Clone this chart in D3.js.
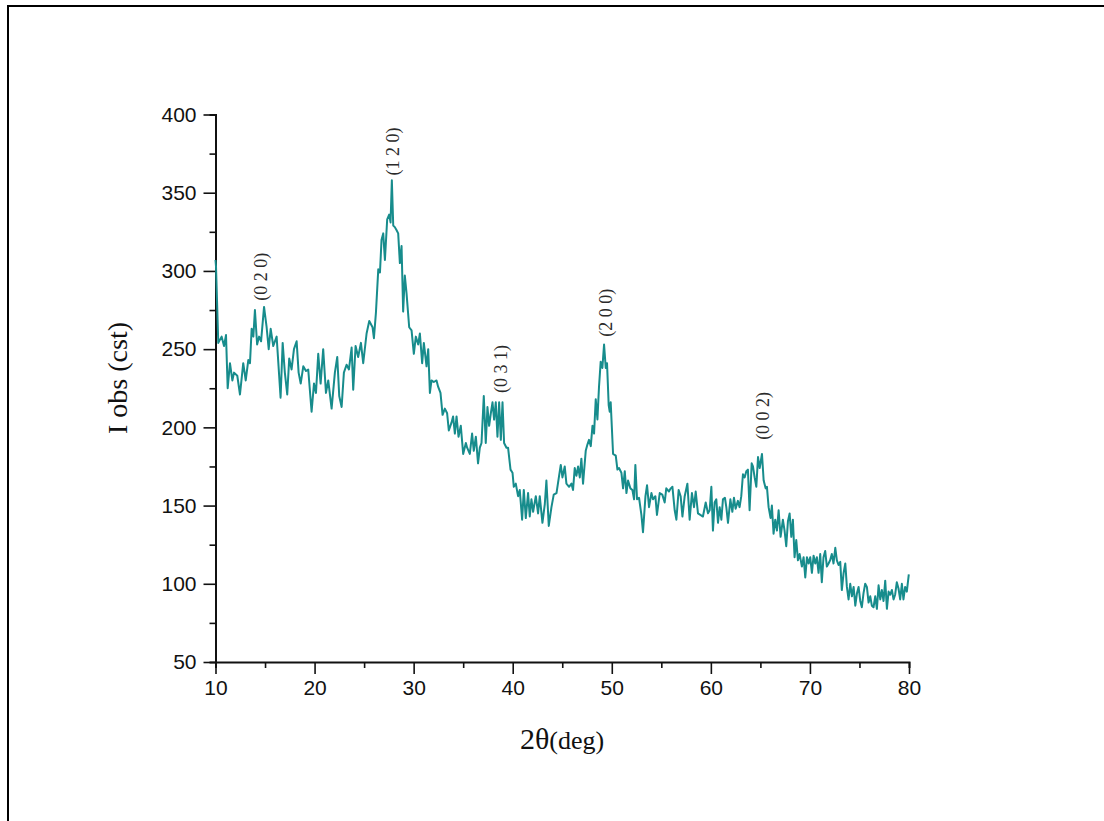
<!DOCTYPE html>
<html>
<head>
<meta charset="utf-8">
<script src="https://cdn.jsdelivr.net/npm/d3@7"></script>
<style>
  html, body { margin: 0; padding: 0; background: #fff; }
  svg { display: block; }
</style>
</head>
<body>
<svg id="chart" width="1104" height="821"></svg>
<script>
// Diffraction pattern: 2θ positions (deg) and observed intensity (counts)
const twoTheta = [
  10.00, 10.05, 10.28, 10.62, 10.86, 11.06, 11.23, 11.46, 11.70, 11.87, 12.20, 12.47, 12.80, 13.05, 13.31, 13.48,
  13.65, 13.82, 13.98, 14.20, 14.40, 14.60, 14.90, 15.16, 15.37, 15.57, 15.83, 16.17, 16.57, 16.78, 17.00, 17.24,
  17.44, 17.68, 17.92, 18.19, 18.39, 18.60, 18.86, 19.13, 19.36, 19.70, 19.94, 20.14, 20.37, 20.61, 20.87, 21.15,
  21.38, 21.72, 22.05, 22.29, 22.49, 22.73, 22.96, 23.23, 23.47, 23.74, 23.90, 24.14, 24.40, 24.68, 24.91, 25.25,
  25.52, 25.85, 25.99, 26.19, 26.43, 26.60, 26.76, 26.93, 27.10, 27.33, 27.53, 27.67, 27.80, 27.94, 28.10, 28.28,
  28.44, 28.61, 28.78, 28.94, 29.11, 29.28, 29.55, 29.79, 30.02, 30.22, 30.46, 30.63, 30.86, 31.03, 31.30, 31.47,
  31.64, 31.80, 32.04, 32.31, 32.47, 32.71, 32.92, 33.15, 33.38, 33.55, 33.82, 33.98, 34.16, 34.33, 34.53, 34.76,
  35.00, 35.27, 35.40, 35.67, 35.90, 36.07, 36.28, 36.50, 36.68, 36.85, 37.08, 37.28, 37.45, 37.62, 37.79, 37.96,
  38.12, 38.29, 38.46, 38.63, 38.80, 38.97, 39.13, 39.37, 39.53, 39.78, 39.98, 40.11, 40.31, 40.54, 40.71, 40.95,
  41.12, 41.32, 41.55, 41.72, 41.89, 42.06, 42.33, 42.56, 42.73, 43.00, 43.24, 43.40, 43.64, 43.91, 44.14, 44.42,
  44.68, 44.85, 45.02, 45.25, 45.42, 45.69, 45.93, 46.09, 46.26, 46.43, 46.60, 46.77, 46.93, 47.10, 47.37, 47.54,
  47.70, 47.88, 48.05, 48.21, 48.38, 48.55, 48.71, 48.88, 49.05, 49.22, 49.39, 49.52, 49.69, 49.79, 49.89, 50.13,
  50.40, 50.57, 50.73, 50.97, 51.14, 51.31, 51.48, 51.64, 51.88, 52.08, 52.25, 52.38, 52.55, 52.75, 52.99, 53.15,
  53.40, 53.56, 53.76, 54.00, 54.16, 54.40, 54.56, 54.84, 55.10, 55.34, 55.50, 55.77, 55.95, 56.12, 56.35, 56.52,
  56.75, 56.95, 57.13, 57.36, 57.63, 57.86, 58.09, 58.30, 58.47, 58.70, 58.94, 59.20, 59.48, 59.71, 59.88, 60.05,
  60.21, 60.38, 60.55, 60.72, 60.89, 61.06, 61.22, 61.42, 61.56, 61.73, 61.97, 62.17, 62.33, 62.50, 62.73, 62.90,
  63.07, 63.24, 63.41, 63.58, 63.74, 63.91, 64.12, 64.25, 64.42, 64.59, 64.76, 64.93, 65.16, 65.33, 65.53, 65.66,
  65.83, 66.03, 66.16, 66.33, 66.50, 66.67, 66.84, 67.04, 67.27, 67.44, 67.61, 67.78, 67.95, 68.12, 68.28, 68.45,
  68.62, 68.79, 68.96, 69.19, 69.36, 69.53, 69.70, 69.87, 70.03, 70.20, 70.37, 70.54, 70.70, 70.87, 71.04, 71.20,
  71.37, 71.54, 71.71, 71.88, 72.04, 72.21, 72.38, 72.56, 72.72, 72.89, 73.06, 73.22, 73.40, 73.57, 73.73, 73.90,
  74.07, 74.24, 74.41, 74.58, 74.75, 74.91, 75.08, 75.24, 75.41, 75.58, 75.75, 75.92, 76.09, 76.25, 76.42, 76.59,
  76.76, 76.93, 77.10, 77.26, 77.43, 77.60, 77.77, 77.94, 78.10, 78.27, 78.44, 78.60, 78.77, 78.94, 79.11, 79.28,
  79.44, 79.61, 79.78, 79.98
];
const intensity = [
  307, 303, 254, 258, 252, 259, 225, 241, 230, 235, 233, 221, 241, 230, 243, 241,
  263, 258, 275, 253, 258, 255, 277, 264, 250, 263, 252, 258, 219, 254, 235, 221,
  244, 237, 250, 255, 235, 228, 239, 236, 237, 210, 228, 222, 247, 228, 250, 222,
  230, 212, 235, 245, 220, 213, 235, 240, 237, 251, 224, 252, 245, 254, 241, 260,
  268, 264, 257, 273, 301, 299, 320, 324, 307, 333, 336, 331, 358, 329, 328, 326,
  324, 305, 316, 274, 297, 286, 264, 262, 247, 258, 253, 260, 241, 254, 239, 250,
  222, 230, 229, 230, 226, 222, 208, 212, 209, 198, 203, 207, 196, 207, 194, 201,
  183, 190, 187, 183, 196, 185, 194, 177, 187, 190, 220, 190, 213, 201, 209, 216,
  205, 216, 194, 216, 192, 216, 190, 187, 187, 173, 171, 162, 164, 156, 160, 141,
  160, 142, 158, 143, 154, 146, 156, 145, 156, 139, 151, 166, 137, 149, 157, 158,
  169, 176, 168, 175, 164, 162, 164, 160, 174, 169, 175, 168, 180, 164, 185, 189,
  192, 188, 201, 196, 218, 205, 226, 242, 238, 253, 238, 241, 214, 210, 216, 183,
  182, 173, 174, 171, 161, 172, 158, 166, 161, 160, 154, 176, 154, 155, 144, 133,
  156, 163, 149, 158, 154, 156, 144, 158, 157, 152, 161, 159, 161, 162, 147, 141,
  160, 156, 143, 156, 164, 141, 158, 149, 159, 145, 144, 143, 152, 145, 147, 162,
  134, 152, 154, 139, 149, 141, 154, 155, 149, 139, 154, 146, 155, 148, 153, 149,
  156, 170, 168, 172, 173, 147, 177, 175, 168, 162, 181, 174, 183, 166, 161, 162,
  149, 142, 150, 132, 141, 134, 147, 130, 141, 134, 124, 140, 145, 130, 141, 117,
  128, 115, 119, 111, 117, 104, 117, 113, 117, 107, 118, 113, 117, 107, 119, 101,
  117, 121, 111, 113, 115, 119, 113, 123, 115, 112, 114, 96, 107, 113, 98, 90,
  100, 92, 98, 86, 94, 98, 89, 85, 94, 100, 98, 88, 92, 86, 85, 92,
  84, 99, 90, 96, 89, 102, 84, 95, 93, 96, 90, 93, 101, 97, 90, 100,
  90, 98, 95, 106
];

// Miller-index annotations: label text, angle of the label, intensity where the label starts
const peakLabels = ["(0 2 0)", "(1 2 0)", "(0 3 1)", "(2 0 0)", "(0 0 2)"];
const peakAngles = [14.6, 27.9, 38.8, 49.4, 65.2];
const peakLabelBase = [281, 361, 222, 258, 192];

// Axis ticks
const xMajorTicks = [10, 20, 30, 40, 50, 60, 70, 80];
const xMinorTicks = [15, 25, 35, 45, 55, 65, 75];
const yMajorTicks = [50, 100, 150, 200, 250, 300, 350, 400];
const yMinorTicks = [75, 125, 175, 225, 275, 325, 375];

const svg = d3.select("#chart");

// Page frame
svg.append("rect")
  .attr("x", 8).attr("y", 6)
  .attr("width", 1120).attr("height", 840)
  .attr("fill", "none").attr("stroke", "#000").attr("stroke-width", 2);

const x = d3.scaleLinear().domain([10, 80]).range([215.5, 909]);
const y = d3.scaleLinear().domain([50, 400]).range([662, 114.5]);

const tickFont = "'Liberation Sans', Arial, sans-serif";
const serif = "'Liberation Serif', 'Times New Roman', serif";

// X axis
const gx = svg.append("g").attr("transform", "translate(0,662)");
gx.call(d3.axisBottom(x).tickValues(xMajorTicks).tickSize(12).tickPadding(6).tickFormat(d3.format("d")));
gx.append("g").call(d3.axisBottom(x).tickValues(xMinorTicks).tickSize(6).tickFormat(""));
// Y axis
const gy = svg.append("g").attr("transform", "translate(215.5,0)");
gy.call(d3.axisLeft(y).tickValues(yMajorTicks).tickSize(12).tickPadding(7).tickFormat(d3.format("d")));
gy.append("g").call(d3.axisLeft(y).tickValues(yMinorTicks).tickSize(6).tickFormat(""));

svg.selectAll(".domain").attr("stroke", "#111").attr("stroke-width", 2);
svg.selectAll(".tick line").attr("stroke", "#111").attr("stroke-width", 1.6);
svg.selectAll(".tick text")
  .attr("font-family", tickFont).attr("font-size", 21).attr("fill", "#111");
// no duplicate domain paths for the minor tick groups
gx.select("g .domain").remove();
gy.select("g .domain").remove();

// Pattern line
const line = d3.line()
  .x((d, i) => x(twoTheta[i]))
  .y(d => y(d));
svg.append("path")
  .datum(intensity)
  .attr("d", line)
  .attr("fill", "none")
  .attr("stroke", "#178c8c")
  .attr("stroke-width", 2)
  .attr("stroke-linejoin", "round");

// Peak annotations
peakLabels.forEach((t, i) => {
  svg.append("text")
    .attr("transform", `translate(${x(peakAngles[i])},${y(peakLabelBase[i])}) rotate(-90)`)
    .attr("dy", "0.35em")
    .attr("font-family", serif).attr("font-size", 18).attr("fill", "#2a2a2a")
    .text(t);
});

// Axis titles
svg.append("text")
  .attr("x", 562).attr("y", 749)
  .attr("text-anchor", "middle")
  .attr("font-family", serif).attr("fill", "#111")
  .call(t => {
    t.append("tspan").attr("font-size", 30).text("2θ");
    t.append("tspan").attr("font-size", 26).text("(deg)");
  });

svg.append("text")
  .attr("transform", "translate(127,378) rotate(-90)")
  .attr("text-anchor", "middle")
  .attr("font-family", serif).attr("font-size", 28).attr("fill", "#111")
  .text("I obs (cst)");
</script>
</body>
</html>
